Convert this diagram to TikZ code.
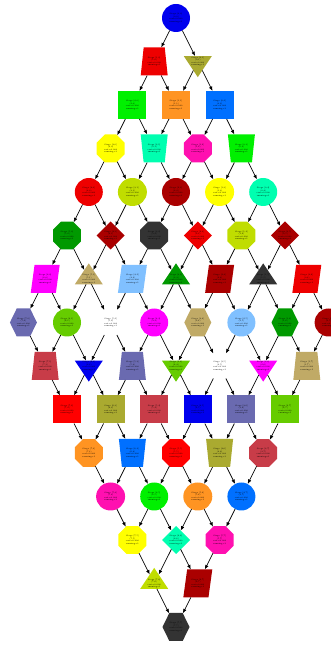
\documentclass[tikz,border=0pt]{standalone}
\usetikzlibrary{shapes.geometric,shapes.symbols,arrows.meta}
\definecolor{cBlue}{HTML}{0000EE}
\definecolor{cRed}{HTML}{EE0000}
\definecolor{cRedB}{HTML}{FF0000}
\definecolor{cOlive}{HTML}{AAAA30}
\definecolor{cGreen}{HTML}{00F000}
\definecolor{cOrange}{HTML}{FF9422}
\definecolor{cAzure}{HTML}{0070FF}
\definecolor{cYellow}{HTML}{FFFF00}
\definecolor{cAqua}{HTML}{00FFB0}
\definecolor{cPink}{HTML}{FF10B0}
\definecolor{cYG}{HTML}{C0DD00}
\definecolor{cDRed}{HTML}{AA0000}
\definecolor{cDGreen}{HTML}{009900}
\definecolor{cDGray}{HTML}{333333}
\definecolor{cMag}{HTML}{FF00FF}
\definecolor{cTan}{HTML}{C0AA66}
\definecolor{cLBlue}{HTML}{80C0FF}
\definecolor{cSlate}{HTML}{6A6AB0}
\definecolor{cYGb}{HTML}{66CC00}
\definecolor{cCrim}{HTML}{C83C48}
\newcommand\nd[4]{\node[#1,fill=#2] (n#3#4) at ({176+(#4-#3)*21.8},{628-43.5*(#3+#4)}) {Stage [#3,#4]\\(#3,#4)\\cost=0.000\\running=1};}
\begin{document}
\begin{tikzpicture}[x=1pt,y=1pt,
  base/.style={inner sep=0pt, outer sep=0pt, font=\fontsize{2}{2.5}\selectfont, align=center},
  circ/.style={base, circle, minimum size=28pt},
  egg/.style={base, ellipse, minimum width=29pt, minimum height=28pt},
  sq/.style={base, rectangle, minimum width=28pt, minimum height=28pt},
  dia/.style={base, diamond, minimum width=28pt, minimum height=28pt},
  oct/.style={base, regular polygon, regular polygon sides=8, minimum size=30.3pt},
  hex/.style={base, signal, signal to=west and east, signal pointer angle=128, minimum width=27pt, minimum height=28pt},
  trap/.style={base, trapezium, trapezium stretches=true, trapezium left angle=79, trapezium right angle=79, minimum width=27pt, minimum height=28pt},
  itrap/.style={trap, shape border rotate=180},
  para/.style={base, trapezium, trapezium stretches=true, trapezium left angle=76, trapezium right angle=104, minimum width=29pt, minimum height=28pt},
  tri/.style={base, isosceles triangle, isosceles triangle stretches=true, shape border rotate=90, isosceles triangle apex angle=67, minimum width=28pt, minimum height=21pt},
  itri/.style={tri, shape border rotate=270},
  conn/.style={-{Latex[length=4.5pt,width=3.6pt]}, line width=0.7pt, black},
]
\useasboundingbox (0,0) rectangle (331,646);
% row 0
\nd{circ}{cBlue}{0}{0}
% row 1
\nd{trap}{cRed}{1}{0}
\nd{itri}{cOlive}{0}{1}
% row 2
\nd{sq}{cGreen}{2}{0}
\nd{sq}{cOrange}{1}{1}
\nd{sq}{cAzure}{0}{2}
% row 3
\nd{oct}{cYellow}{3}{0}
\nd{itrap}{cAqua}{2}{1}
\nd{oct}{cPink}{1}{2}
\nd{itrap}{cGreen}{0}{3}
% row 4
\nd{circ}{cRed}{4}{0}
\nd{egg}{cYG}{3}{1}
\nd{circ}{cDRed}{2}{2}
\nd{egg}{cYellow}{1}{3}
\nd{circ}{cAqua}{0}{4}
% row 5
\nd{oct}{cDGreen}{5}{0}
\nd{dia}{cDRed}{4}{1}
\nd{oct}{cDGray}{3}{2}
\nd{dia}{cRed}{2}{3}
\nd{oct}{cYG}{1}{4}
\nd{dia}{cDRed}{0}{5}
% row 6
\nd{para}{cMag}{6}{0}
\nd{tri}{cTan}{5}{1}
\nd{para}{cLBlue}{4}{2}
\nd{tri}{cDGreen}{3}{3}
\nd{para}{cDRed}{2}{4}
\nd{tri}{cDGray}{1}{5}
\nd{para}{cRed}{0}{6}
% row 7
\nd{hex}{cSlate}{7}{0}
\nd{circ}{cYGb}{6}{1}
\nd{circ}{white}{5}{2}
\nd{circ}{cMag}{4}{3}
\nd{hex}{cTan}{3}{4}
\nd{circ}{cLBlue}{2}{5}
\nd{hex}{cDGreen}{1}{6}
\nd{circ}{cDRed}{0}{7}
% row 8
\nd{trap}{cCrim}{7}{1}
\nd{itri}{cBlue}{6}{2}
\nd{trap}{cSlate}{5}{3}
\nd{itri}{cYGb}{4}{4}
\nd{circ}{white}{3}{5}
\nd{itri}{cMag}{2}{6}
\nd{trap}{cTan}{1}{7}
% row 9
\nd{sq}{cRedB}{7}{2}
\nd{sq}{cOlive}{6}{3}
\nd{sq}{cCrim}{5}{4}
\nd{sq}{cBlue}{4}{5}
\nd{sq}{cSlate}{3}{6}
\nd{sq}{cYGb}{2}{7}
% row 10
\nd{oct}{cOrange}{7}{3}
\nd{itrap}{cAzure}{6}{4}
\nd{oct}{cRedB}{5}{5}
\nd{itrap}{cOlive}{4}{6}
\nd{oct}{cCrim}{3}{7}
% row 11
\nd{egg}{cPink}{7}{4}
\nd{circ}{cGreen}{6}{5}
\nd{egg}{cOrange}{5}{6}
\nd{circ}{cAzure}{4}{7}
% row 12
\nd{oct}{cYellow}{7}{5}
\nd{dia}{cAqua}{6}{6}
\nd{oct}{cPink}{5}{7}
% row 13
\nd{tri}{cYG}{7}{6}
\nd{para}{cDRed}{6}{7}
% row 14
\nd{hex}{cDGray}{7}{7}
% connectors
\foreach \i in {0,...,7}{\foreach \j [count=\jj from 1] in {0,...,6}{\draw[conn] (n\i\j) -- (n\i\jj);}}
\foreach \j in {0,...,7}{\foreach \i [count=\ii from 1] in {0,...,6}{\draw[conn] (n\i\j) -- (n\ii\j);}}
\end{tikzpicture}
\end{document}
